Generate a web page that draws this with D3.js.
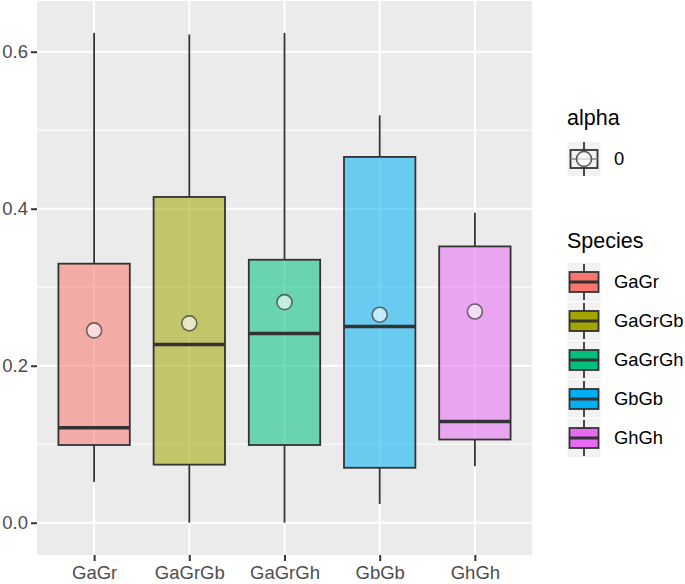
<!DOCTYPE html>
<html><head><meta charset="utf-8">
<script src="https://cdn.jsdelivr.net/npm/d3@7"></script>
<style>body{margin:0;background:#fff;}svg{display:block;font-family:"Liberation Sans",Arial,sans-serif;}</style>
</head><body><svg id="c" width="685" height="584"></svg>
<script>
const categories = ["GaGr","GaGrGb","GaGrGh","GbGb","GhGh"];
const colors = ["#F8766D","#A3A500","#00BF7D","#00B0F6","#E76BF3"];
const whiskerLow = [0.052,0.0,0.0,0.024,0.072];
const q1 = [0.099,0.074,0.099,0.070,0.106];
const median = [0.121,0.227,0.241,0.250,0.129];
const q3 = [0.330,0.415,0.335,0.466,0.352];
const whiskerHigh = [0.624,0.622,0.624,0.519,0.395];
const means = [0.245,0.254,0.281,0.265,0.269];
const yTicks = [0.0,0.2,0.4,0.6];
const yMinor = [0.1,0.3,0.5];

const svg = d3.select("#c");
const P = {l:37, r:532, t:1, b:555};
const x = d3.scalePoint().domain(categories).range([P.l, P.r]).padding(0.6);
const step = x.step();
const y = d3.scaleLinear().domain([-0.0411, 0.6646]).range([P.b, P.t]);

svg.append("rect").attr("x",P.l).attr("y",P.t).attr("width",P.r-P.l).attr("height",P.b-P.t).attr("fill","#EBEBEB");
const g = svg.append("g");
yMinor.forEach(v=>g.append("line").attr("x1",P.l).attr("x2",P.r).attr("y1",y(v)).attr("y2",y(v)).attr("stroke","#fff").attr("stroke-width",1));
yTicks.forEach(v=>g.append("line").attr("x1",P.l).attr("x2",P.r).attr("y1",y(v)).attr("y2",y(v)).attr("stroke","#fff").attr("stroke-width",2));
categories.forEach(c=>g.append("line").attr("x1",x(c)).attr("x2",x(c)).attr("y1",P.t).attr("y2",P.b).attr("stroke","#fff").attr("stroke-width",2));

const bw = step*0.75;
categories.forEach((c,i)=>{
  const cx = x(c);
  g.append("line").attr("x1",cx).attr("x2",cx).attr("y1",y(whiskerHigh[i])).attr("y2",y(q3[i])).attr("stroke","#333").attr("stroke-width",1.8);
  g.append("line").attr("x1",cx).attr("x2",cx).attr("y1",y(q1[i])).attr("y2",y(whiskerLow[i])).attr("stroke","#333").attr("stroke-width",1.8);
  g.append("rect").attr("x",cx-bw/2).attr("y",y(q3[i])).attr("width",bw).attr("height",y(q1[i])-y(q3[i]))
    .attr("fill",colors[i]).attr("fill-opacity",0.55).attr("stroke","#333").attr("stroke-width",1.8);
  g.append("line").attr("x1",cx-bw/2).attr("x2",cx+bw/2).attr("y1",y(median[i])).attr("y2",y(median[i])).attr("stroke","#333").attr("stroke-width",3.6);
  g.append("circle").attr("cx",cx).attr("cy",y(means[i])).attr("r",7.5).attr("fill","#fff").attr("fill-opacity",0.6)
    .attr("stroke","#333").attr("stroke-opacity",0.7).attr("stroke-width",1.6);
});

// axes
const ya = svg.append("g").attr("transform",`translate(${P.l},0)`).call(d3.axisLeft(y).tickValues(yTicks).tickFormat(d3.format(".1f")).tickSize(6).tickPadding(3));
const xa = svg.append("g").attr("transform",`translate(0,${P.b})`).call(d3.axisBottom(x).tickSize(6).tickPadding(4));
[ya,xa].forEach(a=>{
  a.select(".domain").remove();
  a.selectAll(".tick line").attr("stroke","#333").attr("stroke-width",2);
  a.selectAll("text").attr("fill","#4D4D4D").style("font-size","18.5px").style("font-family","Liberation Sans, Arial, sans-serif");
});
xa.selectAll("text").attr("dy","0.75em");

// legend alpha
const L = svg.append("g");
L.append("text").attr("x",567).attr("y",125).text("alpha").style("font-size","21.5px").attr("fill","#000");
const k1 = {x:567.5, y:142, w:33, h:34};
L.append("rect").attr("x",k1.x).attr("y",k1.y).attr("width",k1.w).attr("height",k1.h).attr("fill","#F2F2F2");
const kc = k1.x+k1.w/2, km = k1.y+k1.h/2;
L.append("line").attr("x1",kc).attr("x2",kc).attr("y1",k1.y).attr("y2",k1.y+k1.h).attr("stroke","#333").attr("stroke-width",1.8);
L.append("rect").attr("x",k1.x+3).attr("y",km-9).attr("width",k1.w-6).attr("height",18).attr("fill","#F2F2F2").attr("stroke","#333").attr("stroke-width",1.8);
L.append("line").attr("x1",k1.x+3).attr("x2",k1.x+k1.w-3).attr("y1",km).attr("y2",km).attr("stroke","#888").attr("stroke-width",1.5);
L.append("circle").attr("cx",kc).attr("cy",km).attr("r",7.5).attr("fill","#fff").attr("fill-opacity",0.6).attr("stroke","#555").attr("stroke-width",1.6);
L.append("text").attr("x",614).attr("y",km).attr("dy","0.35em").text("0").style("font-size","18.4px").attr("fill","#000");

// legend species
L.append("text").attr("x",567).attr("y",248).text("Species").style("font-size","21.5px").attr("fill","#000");
categories.forEach((c,i)=>{
  const ky = 263 + i*39, kh = 38, kw = 33, kx = 567.5;
  const cx = kx+kw/2, cy = ky+kh/2;
  L.append("rect").attr("x",kx).attr("y",ky).attr("width",kw).attr("height",kh).attr("fill","#F2F2F2");
  L.append("line").attr("x1",cx).attr("x2",cx).attr("y1",ky+1).attr("y2",ky+kh-1).attr("stroke","#333").attr("stroke-width",1.8);
  L.append("rect").attr("x",kx+2).attr("y",cy-10).attr("width",kw-4).attr("height",20).attr("fill",colors[i]).attr("stroke","#333").attr("stroke-width",1.8);
  L.append("line").attr("x1",kx+2).attr("x2",kx+kw-2).attr("y1",cy).attr("y2",cy).attr("stroke","#333").attr("stroke-width",3);
  L.append("text").attr("x",614).attr("y",cy).attr("dy","0.35em").text(c).style("font-size","18.4px").attr("fill","#000");
});
</script></body></html>
